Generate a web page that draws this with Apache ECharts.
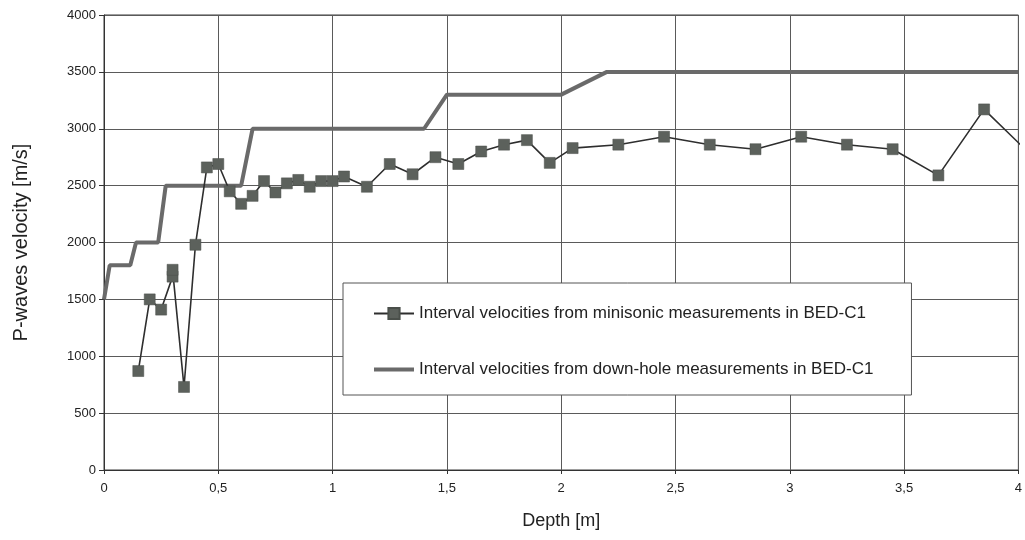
<!DOCTYPE html>
<html>
<head>
<meta charset="utf-8">
<script src="https://cdn.jsdelivr.net/npm/echarts@6/dist/echarts.min.js"></script>
<style>
  html, body { margin: 0; padding: 0; background: #ffffff; }
  #chart { width: 1025px; height: 540px; }
</style>
</head>
<body>
<div id="chart"></div>
<script>
// Interval velocities from minisonic measurements (depth in m, velocity in m/s)
const depthMini = [0.15, 0.2, 0.25, 0.3, 0.3, 0.35, 0.4, 0.45, 0.5, 0.55, 0.6, 0.65, 0.7, 0.75, 0.8, 0.85, 0.9, 0.95, 1.0, 1.05,
                   1.15, 1.25, 1.35, 1.45, 1.55, 1.65, 1.75, 1.85, 1.95, 2.05, 2.25, 2.45, 2.65, 2.85, 3.05, 3.25, 3.45, 3.65, 3.85, 4.05];
const velMini   = [870, 1500, 1410, 1700, 1760, 730, 1980, 2660, 2690, 2450, 2340, 2410, 2540, 2440, 2520, 2550, 2490, 2540, 2540, 2580,
                   2490, 2690, 2600, 2750, 2690, 2800, 2860, 2900, 2700, 2830, 2860, 2930, 2860, 2820, 2930, 2860, 2820, 2590, 3170, 2780];

// Interval velocities from down-hole measurements
const depthDH = [0, 0.025, 0.115, 0.14, 0.237, 0.27, 0.6, 0.65, 1.4, 1.5, 2.0, 2.2, 4.0];
const velDH   = [1500, 1800, 1800, 2000, 2000, 2500, 2500, 3000, 3000, 3300, 3300, 3500, 3500];

const seriesNames = [
  'Interval velocities from minisonic measurements in BED-C1',
  'Interval velocities from down-hole measurements in BED-C1'
];
const xTicks = { min: 0, max: 4, step: 0.5 };
const yTicks = { min: 0, max: 4000, step: 500 };

const zip = (xs, ys) => xs.map((x, i) => [x, ys[i]]);
const font = '"Liberation Sans", Arial, sans-serif';

const chart = echarts.init(document.getElementById('chart'), null, { renderer: 'canvas' });
chart.setOption({
  backgroundColor: '#ffffff',
  animation: false,
  textStyle: { fontFamily: font },
  grid: {
    left: 104, right: 3, top: 15, bottom: 70,
    show: true, borderColor: '#3a3a3a', borderWidth: 1, backgroundColor: 'transparent'
  },
  xAxis: {
    type: 'value',
    min: xTicks.min, max: xTicks.max, interval: xTicks.step,
    name: 'Depth [m]', nameLocation: 'middle', nameGap: 42,
    nameTextStyle: { fontSize: 18, color: '#222', fontFamily: font },
    axisLine: { show: true, onZero: false, lineStyle: { color: '#333', width: 1 } },
    axisTick: { show: true, length: 4, lineStyle: { color: '#333' } },
    axisLabel: {
      margin: 12, fontSize: 13, color: '#222', fontFamily: font,
      formatter: v => String(v).replace('.', ',')
    },
    splitLine: { show: true, lineStyle: { color: '#5a5a5a', width: 1 } }
  },
  yAxis: {
    type: 'value',
    min: yTicks.min, max: yTicks.max, interval: yTicks.step,
    name: 'P-waves velocity [m/s]', nameLocation: 'middle', nameGap: 73,
    nameTextStyle: { fontSize: 20, color: '#222', fontFamily: font },
    axisLine: { show: true, lineStyle: { color: '#333', width: 1 } },
    axisTick: { show: true, length: 5, lineStyle: { color: '#333' } },
    axisLabel: { margin: 8, fontSize: 13, color: '#222', fontFamily: font, formatter: v => String(v) },
    splitLine: { show: true, lineStyle: { color: '#5a5a5a', width: 1 } }
  },
  legend: {
    orient: 'vertical',
    left: 343, top: 283,
    data: [
      { name: seriesNames[0] },
      { name: seriesNames[1], icon: 'path://M0,0L40,0L40,4L0,4Z' }
    ],
    backgroundColor: '#ffffff',
    borderColor: '#555', borderWidth: 1,
    padding: [22, 38, 17, 30],
    itemGap: 39,
    itemWidth: 40, itemHeight: 14,
    textStyle: { fontSize: 17, color: '#222', fontFamily: font }
  },
  series: [
    {
      name: seriesNames[1],
      type: 'line',
      data: zip(depthDH, velDH),
      showSymbol: false, symbol: 'none',
      lineStyle: { color: '#6a6a6a', width: 4 },
      itemStyle: { color: '#6a6a6a' },
      clip: true, z: 2
    },
    {
      name: seriesNames[0],
      type: 'line',
      data: zip(depthMini, velMini),
      symbol: 'rect', symbolSize: 11,
      lineStyle: { color: '#2e2e2e', width: 1.6 },
      itemStyle: { color: '#5c615c', borderColor: '#4a4f4a', borderWidth: 0.5 },
      clip: true, z: 3
    }
  ]
});
</script>
</body>
</html>
